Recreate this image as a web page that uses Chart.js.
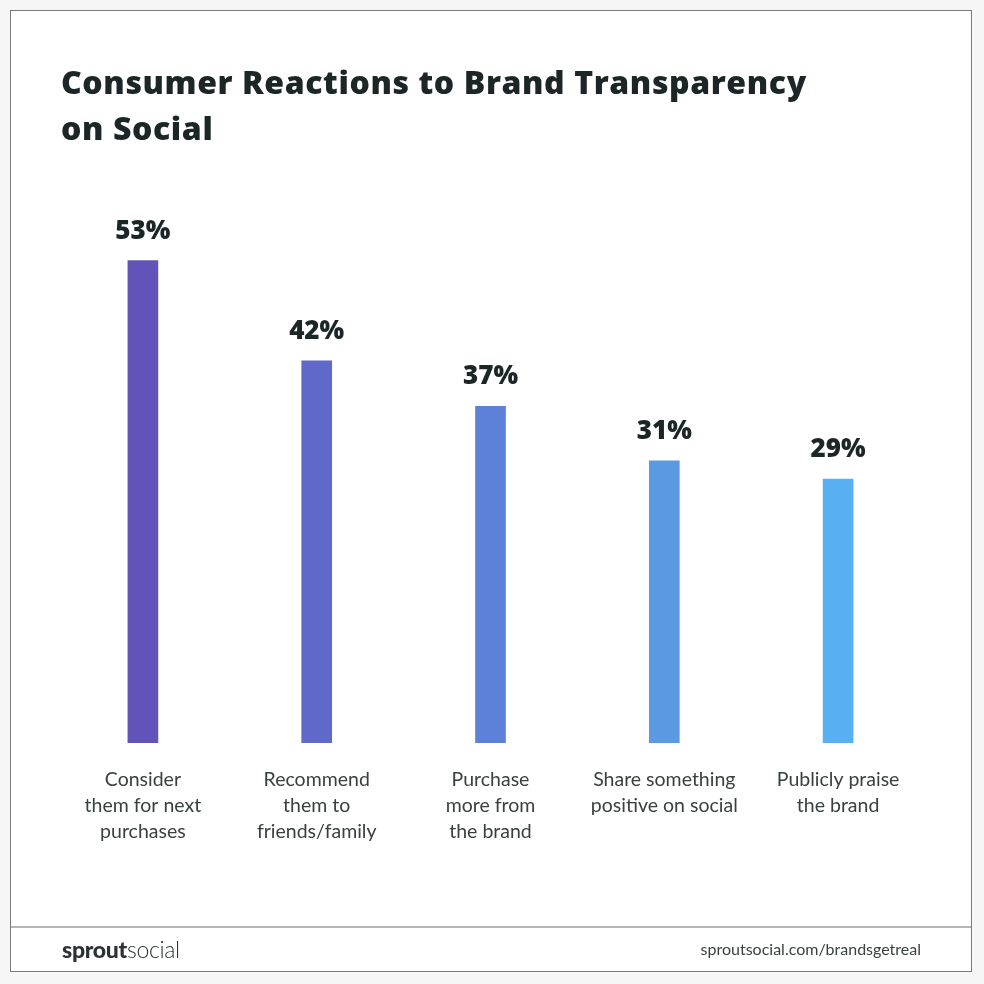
<!DOCTYPE html>
<html>
<head>
<meta charset="utf-8">
<script src="https://cdn.jsdelivr.net/npm/chart.js@4"></script>
<style>
  html, body { margin: 0; padding: 0; background: #f6f6f6; }
  #page { position: relative; width: 984px; height: 984px; overflow: hidden; background: #f6f6f6; }
  #frame { position: absolute; left: 10px; top: 10px; width: 960px; height: 960px; border: 1px solid #7a7a7a; background: #ffffff; }
  #sep { position: absolute; left: 11px; top: 926px; width: 960px; height: 0; border-top: 2px solid #b4b6b6; }
  #chart { position: absolute; left: 0; top: 0; }
  #title { position: absolute; left: 61px; top: 59px; font-family: "Open Sans", Lato, sans-serif; font-weight: 800; font-size: 32px; line-height: 46px; color: #1c2626; letter-spacing: 0.6px; }
  #logo { position: absolute; left: 62px; top: 935px; font-family: Lato, sans-serif; font-size: 23px; color: #2a3232; letter-spacing: -0.3px; }
  #logo b { font-weight: 900; }
  #logo span { font-weight: 300; }
  #url { position: absolute; right: 63px; top: 939px; font-family: Lato, sans-serif; font-size: 16px; color: #3a4040; }
</style>
</head>
<body>
<div id="page">
  <div id="frame"></div>
  <div id="sep"></div>
  <canvas id="chart" width="984" height="984"></canvas>
  <div id="title">Consumer Reactions to Brand Transparency<br>on Social</div>
  <div id="logo"><b>sprout</b><span>social</span></div>
  <div id="url">sproutsocial.com/brandsgetreal</div>
</div>
<script>
const categories = [
  ["Consider", "them for next", "purchases"],
  ["Recommend", "them to", "friends/family"],
  ["Purchase", "more from", "the brand"],
  ["Share something", "positive on social"],
  ["Publicly praise", "the brand"]
];
const values = [53, 42, 37, 31, 29];
const valueLabels = ["53%", "42%", "37%", "31%", "29%"];
const barColors = ["#6153b8", "#5f69ca", "#5d81d9", "#5b99e3", "#58aff1"];

const valueLabelPlugin = {
  id: 'valueLabels',
  afterDatasetsDraw(chart) {
    const ctx = chart.ctx;
    const meta = chart.getDatasetMeta(0);
    ctx.save();
    ctx.font = '800 26px "Open Sans", Lato, sans-serif';
    ctx.fillStyle = '#1c2626';
    ctx.textAlign = 'center';
    ctx.textBaseline = 'alphabetic';
    meta.data.forEach((bar, i) => {
      ctx.fillText(valueLabels[i], bar.x, bar.y - 22);
    });
    ctx.restore();
  }
};

new Chart(document.getElementById('chart'), {
  type: 'bar',
  data: {
    labels: categories,
    datasets: [{
      data: values,
      backgroundColor: barColors,
      borderWidth: 0,
      barThickness: 30
    }]
  },
  options: {
    responsive: false,
    animation: false,
    layout: { padding: { left: 56, right: 59, top: 197, bottom: 115 } },
    plugins: { legend: { display: false }, tooltip: { enabled: false } },
    scales: {
      y: { display: false, min: 0, max: 60 },
      x: {
        grid: { display: false, drawTicks: false },
        border: { display: false },
        ticks: {
          autoSkip: false,
          maxRotation: 0,
          minRotation: 0,
          padding: 24,
          color: '#3a4040',
          font: { family: 'Lato, "Open Sans", sans-serif', size: 19.5, lineHeight: '26px' }
        }
      }
    }
  },
  plugins: [valueLabelPlugin]
});
</script>
</body>
</html>
